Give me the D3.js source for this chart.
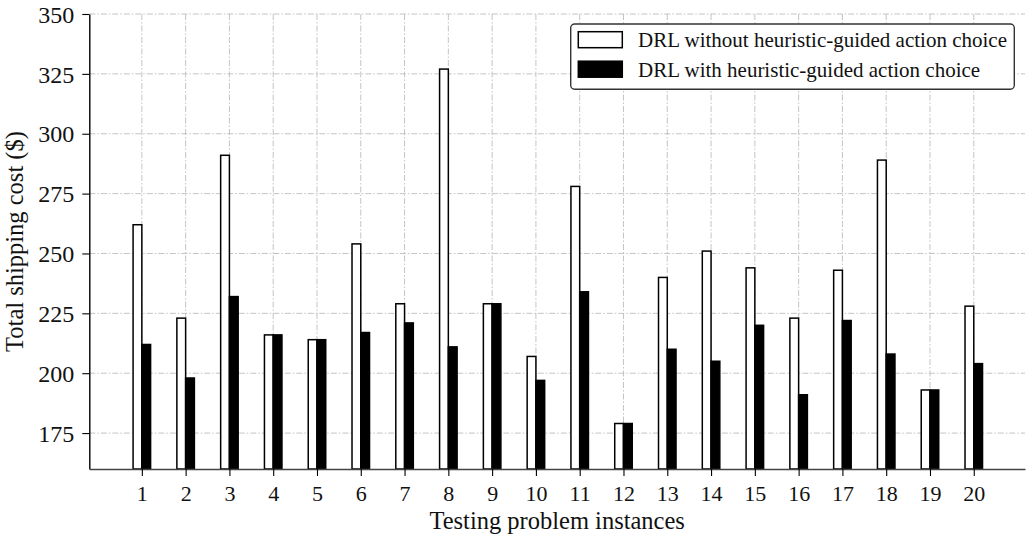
<!DOCTYPE html>
<html>
<head>
<meta charset="utf-8">
<script src="https://cdn.jsdelivr.net/npm/d3@7"></script>
<style>
  html, body { margin: 0; padding: 0; background: #fff; }
  svg text { font-family: "Liberation Serif", "Times New Roman", serif; fill: #111; }
</style>
</head>
<body>
<svg id="chart" width="1029" height="535"></svg>
<script>
// Test instances 1..20
const instances = d3.range(1, 21);
// Total shipping cost ($) per instance
const costWithout = [262, 223, 291, 216, 214, 254, 229, 327, 229, 207, 278, 179, 240, 251, 244, 223, 243, 289, 193, 228];
const costWith    = [212, 198, 232, 216, 214, 217, 221, 211, 229, 197, 234, 179, 210, 205, 220, 191, 222, 208, 193, 204];
const yTicks = [175, 200, 225, 250, 275, 300, 325, 350];
const seriesNames = ["DRL without heuristic-guided action choice", "DRL with heuristic-guided action choice"];
const seriesFill = ["#ffffff", "#000000"];

const svg = d3.select("#chart");
const plotL = 89.3, plotR = 1025, plotT = 14, plotB = 469;

const x = d3.scaleLinear().domain([-0.2, 21.17]).range([plotL, plotR]);
const y = d3.scaleLinear().domain([160, 350]).range([plotB, plotT]);
const barW = 0.2;

// grid
const grid = svg.append("g").attr("stroke", "#bdbdbd").attr("stroke-width", 0.9)
  .attr("stroke-dasharray", "6,2,1.5,2").attr("fill", "none");
grid.selectAll("line.h").data(yTicks).join("line").attr("class", "h")
  .attr("x1", plotL).attr("x2", plotR).attr("y1", d => y(d)).attr("y2", d => y(d));
grid.selectAll("line.v").data(instances).join("line").attr("class", "v")
  .attr("x1", d => x(d)).attr("x2", d => x(d)).attr("y1", plotT).attr("y2", plotB);

// bars
const bars = svg.append("g");
[costWithout, costWith].forEach((vals, s) => {
  bars.append("g").selectAll("rect").data(vals).join("rect")
    .attr("x", (d, i) => x(instances[i] + (s === 0 ? -barW : 0)))
    .attr("width", x(barW) - x(0))
    .attr("y", d => y(d))
    .attr("height", d => y(160) - y(d))
    .attr("fill", seriesFill[s])
    .attr("stroke", "#000")
    .attr("stroke-width", 1.5);
});

// axes
const yAxis = svg.append("g").attr("transform", `translate(${plotL},0)`)
  .call(d3.axisLeft(y).tickValues(yTicks).tickSize(7).tickSizeOuter(0).tickPadding(8));
yAxis.select(".domain").attr("stroke", "#000").attr("stroke-width", 1.4);
yAxis.selectAll(".tick line").attr("stroke", "#000").attr("stroke-width", 1.1);
yAxis.selectAll(".tick text").style("font-size", "24px").attr("dy", "0.34em");

const xAxis = svg.append("g").attr("transform", `translate(0,${plotB})`)
  .call(d3.axisBottom(x).tickValues(instances).tickFormat(d3.format("d")).tickSize(7).tickSizeOuter(0).tickPadding(9));
xAxis.select(".domain").attr("stroke", "#444").attr("stroke-width", 1.4);
xAxis.selectAll(".tick line").attr("stroke", "#000").attr("stroke-width", 1.1);
xAxis.selectAll(".tick text").style("font-size", "22px").attr("dy", "0.71em");

// axis titles
svg.append("text").attr("x", (plotL + plotR) / 2).attr("y", 529)
  .attr("text-anchor", "middle").style("font-size", "24.5px").text("Testing problem instances");
svg.append("text").attr("transform", `translate(23,${(plotT + plotB) / 2}) rotate(-90)`)
  .attr("text-anchor", "middle").style("font-size", "24.5px").text("Total shipping cost ($)");

// legend
const lg = svg.append("g");
lg.append("rect").attr("x", 570.7).attr("y", 24).attr("width", 443.6).attr("height", 65.3)
  .attr("rx", 4).attr("fill", "#fff").attr("stroke", "#333").attr("stroke-width", 1.4);
seriesNames.forEach((name, i) => {
  const yy = 31.7 + i * 29.5;
  lg.append("rect").attr("x", 578.3).attr("y", yy).attr("width", 44).attr("height", 16)
    .attr("fill", seriesFill[i]).attr("stroke", "#000").attr("stroke-width", 1.5);
  lg.append("text").attr("x", 638).attr("y", yy + 8).attr("dy", "0.35em")
    .style("font-size", "21px").text(name);
});
</script>
</body>
</html>
